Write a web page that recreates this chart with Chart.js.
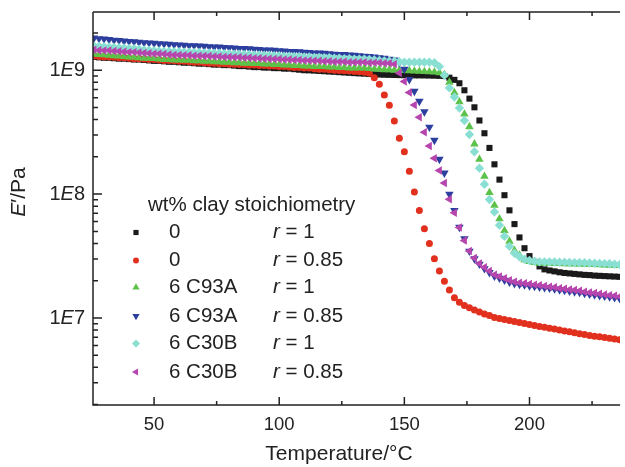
<!DOCTYPE html>
<html>
<head>
<meta charset="utf-8">
<script src="https://cdn.jsdelivr.net/npm/chart.js@4.4.1/dist/chart.umd.min.js"></script>
<style>
  html, body { margin: 0; padding: 0; background: #fff; }
  canvas { display: block; }
</style>
</head>
<body>
<canvas id="modulusChart" width="625" height="467"></canvas>
<script>
//================================================
// DATA (E' in Pa vs temperature in C)
//================================================
const temps = [
    26, 28, 30, 32, 34, 36, 38, 40, 42, 44,
    46, 48, 50, 52, 54, 56, 58, 60, 62, 64,
    66, 68, 70, 72, 74, 76, 78, 80, 82, 84,
    86, 88, 90, 92, 94, 96, 98, 100, 102, 104,
    106, 108, 110, 112, 114, 116, 118, 120, 122, 124,
    126, 128, 130, 132, 134, 136, 138, 140, 142, 144,
    146, 148, 150, 152, 154, 156, 158, 160, 162, 164,
    166, 168, 170, 172, 174, 176, 178, 180, 182, 184,
    186, 188, 190, 192, 194, 196, 198, 200, 202, 204,
    206, 208, 210, 212, 214, 216, 218, 220, 222, 224,
    226, 228, 230, 232, 234, 236
];

// 0 wt%, r = 1
const neatR1 = [
    1.28e9, 1.27e9, 1.26e9, 1.26e9, 1.25e9, 1.24e9, 1.24e9, 1.23e9, 1.22e9, 1.22e9,
    1.21e9, 1.20e9, 1.19e9, 1.19e9, 1.18e9, 1.17e9, 1.17e9, 1.16e9, 1.15e9, 1.15e9,
    1.14e9, 1.13e9, 1.13e9, 1.12e9, 1.11e9, 1.11e9, 1.10e9, 1.10e9, 1.09e9, 1.08e9,
    1.08e9, 1.07e9, 1.06e9, 1.06e9, 1.05e9, 1.05e9, 1.04e9, 1.04e9, 1.03e9, 1.03e9,
    1.02e9, 1.01e9, 1.00e9, 9.98e8, 9.93e8, 9.87e8, 9.82e8, 9.76e8, 9.71e8, 9.65e8,
    9.59e8, 9.54e8, 9.48e8, 9.43e8, 9.38e8, 9.32e8, 9.27e8, 9.23e8, 9.20e8, 9.18e8,
    9.16e8, 9.14e8, 9.12e8, 9.10e8, 9.09e8, 9.09e8, 9.08e8, 9.06e8, 9.04e8, 9.01e8,
    8.97e8, 8.70e8, 8.36e8, 7.85e8, 6.89e8, 5.90e8, 5.02e8, 3.93e8, 3.10e8, 2.36e8,
    1.74e8, 1.31e8, 9.80e7, 7.40e7, 5.73e7, 4.47e7, 3.66e7, 3.16e7, 2.84e7, 2.61e7,
    2.47e7, 2.42e7, 2.38e7, 2.34e7, 2.31e7, 2.29e7, 2.27e7, 2.25e7, 2.23e7, 2.22e7,
    2.20e7, 2.19e7, 2.18e7, 2.17e7, 2.16e7, 2.15e7
];

// 0 wt%, r = 0.85
const neatR085 = [
    1.30e9, 1.29e9, 1.28e9, 1.28e9, 1.27e9, 1.26e9, 1.26e9, 1.25e9, 1.24e9, 1.24e9,
    1.23e9, 1.22e9, 1.22e9, 1.21e9, 1.20e9, 1.20e9, 1.19e9, 1.18e9, 1.18e9, 1.17e9,
    1.16e9, 1.16e9, 1.15e9, 1.14e9, 1.14e9, 1.13e9, 1.13e9, 1.12e9, 1.12e9, 1.11e9,
    1.11e9, 1.10e9, 1.10e9, 1.09e9, 1.09e9, 1.08e9, 1.08e9, 1.07e9, 1.07e9, 1.06e9,
    1.05e9, 1.05e9, 1.04e9, 1.04e9, 1.03e9, 1.02e9, 1.02e9, 1.01e9, 1.00e9, 9.95e8,
    9.90e8, 9.84e8, 9.78e8, 9.72e8, 9.62e8, 9.45e8, 8.70e8, 7.69e8, 6.32e8, 5.21e8,
    3.90e8, 2.82e8, 2.20e8, 1.53e8, 1.04e8, 7.36e7, 5.25e7, 3.99e7, 3.01e7, 2.40e7,
    1.98e7, 1.68e7, 1.46e7, 1.34e7, 1.26e7, 1.21e7, 1.16e7, 1.12e7, 1.08e7, 1.05e7,
    1.01e7, 9.90e6, 9.73e6, 9.55e6, 9.38e6, 9.20e6, 9.04e6, 8.87e6, 8.71e6, 8.55e6,
    8.41e6, 8.28e6, 8.15e6, 8.02e6, 7.87e6, 7.74e6, 7.60e6, 7.46e6, 7.35e6, 7.24e6,
    7.14e6, 7.05e6, 6.95e6, 6.87e6, 6.78e6, 6.68e6
];

// 6 wt% C93A, r = 1
const c93aR1 = [
    1.35e9, 1.34e9, 1.33e9, 1.32e9, 1.31e9, 1.30e9, 1.29e9, 1.28e9, 1.27e9, 1.26e9,
    1.25e9, 1.25e9, 1.24e9, 1.23e9, 1.22e9, 1.22e9, 1.21e9, 1.21e9, 1.20e9, 1.20e9,
    1.19e9, 1.19e9, 1.18e9, 1.18e9, 1.17e9, 1.17e9, 1.16e9, 1.16e9, 1.15e9, 1.15e9,
    1.14e9, 1.14e9, 1.13e9, 1.13e9, 1.12e9, 1.12e9, 1.11e9, 1.11e9, 1.10e9, 1.10e9,
    1.09e9, 1.09e9, 1.08e9, 1.08e9, 1.07e9, 1.07e9, 1.07e9, 1.06e9, 1.06e9, 1.05e9,
    1.05e9, 1.04e9, 1.04e9, 1.04e9, 1.04e9, 1.03e9, 1.02e9, 1.02e9, 1.01e9, 1.01e9,
    1.00e9, 1.00e9, 9.95e8, 9.90e8, 9.85e8, 9.80e8, 9.75e8, 9.70e8, 9.65e8, 9.55e8,
    9.20e8, 8.00e8, 6.60e8, 5.56e8, 4.42e8, 3.50e8, 2.54e8, 1.91e8, 1.39e8, 1.03e8,
    8.11e7, 6.32e7, 5.07e7, 4.17e7, 3.51e7, 3.21e7, 2.95e7, 2.85e7, 2.80e7, 2.77e7,
    2.76e7, 2.76e7, 2.75e7, 2.75e7, 2.74e7, 2.74e7, 2.73e7, 2.73e7, 2.72e7, 2.71e7,
    2.70e7, 2.69e7, 2.68e7, 2.67e7, 2.67e7, 2.66e7
];

// 6 wt% C93A, r = 0.85
const c93aR085 = [
    1.82e9, 1.80e9, 1.79e9, 1.77e9, 1.75e9, 1.74e9, 1.72e9, 1.71e9, 1.70e9, 1.68e9,
    1.67e9, 1.66e9, 1.65e9, 1.64e9, 1.63e9, 1.62e9, 1.61e9, 1.60e9, 1.59e9, 1.58e9,
    1.58e9, 1.57e9, 1.56e9, 1.55e9, 1.54e9, 1.54e9, 1.53e9, 1.52e9, 1.51e9, 1.50e9,
    1.50e9, 1.49e9, 1.48e9, 1.47e9, 1.46e9, 1.46e9, 1.45e9, 1.44e9, 1.43e9, 1.42e9,
    1.42e9, 1.41e9, 1.40e9, 1.39e9, 1.38e9, 1.38e9, 1.37e9, 1.36e9, 1.35e9, 1.34e9,
    1.34e9, 1.33e9, 1.32e9, 1.31e9, 1.30e9, 1.29e9, 1.28e9, 1.26e9, 1.25e9, 1.23e9,
    1.21e9, 1.15e9, 1.02e9, 8.41e8, 6.76e8, 5.62e8, 4.62e8, 3.47e8, 2.72e8, 1.91e8,
    1.48e8, 1.00e8, 7.40e7, 5.40e7, 4.37e7, 3.47e7, 3.01e7, 2.72e7, 2.50e7, 2.33e7,
    2.18e7, 2.10e7, 2.02e7, 1.95e7, 1.90e7, 1.87e7, 1.85e7, 1.82e7, 1.80e7, 1.78e7,
    1.76e7, 1.74e7, 1.72e7, 1.69e7, 1.67e7, 1.65e7, 1.63e7, 1.61e7, 1.58e7, 1.56e7,
    1.54e7, 1.52e7, 1.50e7, 1.48e7, 1.46e7, 1.44e7
];

// 6 wt% C30B, r = 1
const c30bR1 = [
    1.57e9, 1.56e9, 1.55e9, 1.54e9, 1.53e9, 1.52e9, 1.51e9, 1.50e9, 1.49e9, 1.48e9,
    1.46e9, 1.45e9, 1.44e9, 1.43e9, 1.42e9, 1.42e9, 1.41e9, 1.41e9, 1.40e9, 1.40e9,
    1.39e9, 1.39e9, 1.38e9, 1.38e9, 1.37e9, 1.37e9, 1.36e9, 1.36e9, 1.35e9, 1.35e9,
    1.34e9, 1.34e9, 1.33e9, 1.33e9, 1.32e9, 1.32e9, 1.31e9, 1.31e9, 1.30e9, 1.30e9,
    1.29e9, 1.29e9, 1.28e9, 1.28e9, 1.27e9, 1.27e9, 1.26e9, 1.26e9, 1.25e9, 1.25e9,
    1.24e9, 1.24e9, 1.23e9, 1.23e9, 1.23e9, 1.22e9, 1.21e9, 1.20e9, 1.19e9, 1.18e9,
    1.18e9, 1.17e9, 1.16e9, 1.16e9, 1.16e9, 1.16e9, 1.16e9, 1.16e9, 1.15e9, 1.07e9,
    9.10e8, 7.20e8, 6.08e8, 4.95e8, 3.93e8, 3.03e8, 2.20e8, 1.62e8, 1.20e8, 9.06e7,
    7.19e7, 5.62e7, 4.57e7, 3.79e7, 3.33e7, 3.12e7, 2.98e7, 2.91e7, 2.87e7, 2.84e7,
    2.84e7, 2.83e7, 2.83e7, 2.82e7, 2.82e7, 2.81e7, 2.80e7, 2.79e7, 2.79e7, 2.78e7,
    2.77e7, 2.76e7, 2.75e7, 2.74e7, 2.72e7, 2.70e7
];

// 6 wt% C30B, r = 0.85
const c30bR085 = [
    1.46e9, 1.45e9, 1.44e9, 1.44e9, 1.43e9, 1.42e9, 1.41e9, 1.40e9, 1.40e9, 1.39e9,
    1.38e9, 1.37e9, 1.36e9, 1.36e9, 1.35e9, 1.34e9, 1.33e9, 1.33e9, 1.32e9, 1.32e9,
    1.31e9, 1.31e9, 1.30e9, 1.30e9, 1.29e9, 1.29e9, 1.28e9, 1.28e9, 1.27e9, 1.27e9,
    1.26e9, 1.26e9, 1.25e9, 1.25e9, 1.24e9, 1.24e9, 1.23e9, 1.23e9, 1.22e9, 1.22e9,
    1.21e9, 1.21e9, 1.20e9, 1.20e9, 1.19e9, 1.19e9, 1.18e9, 1.18e9, 1.17e9, 1.17e9,
    1.17e9, 1.16e9, 1.16e9, 1.16e9, 1.16e9, 1.15e9, 1.15e9, 1.15e9, 1.14e9, 1.14e9,
    1.12e9, 9.50e8, 8.10e8, 6.60e8, 5.25e8, 4.17e8, 3.16e8, 2.45e8, 1.95e8, 1.55e8,
    1.23e8, 9.10e7, 7.06e7, 5.37e7, 4.22e7, 3.47e7, 3.05e7, 2.75e7, 2.57e7, 2.40e7,
    2.24e7, 2.16e7, 2.09e7, 2.02e7, 1.96e7, 1.93e7, 1.91e7, 1.88e7, 1.86e7, 1.84e7,
    1.81e7, 1.79e7, 1.77e7, 1.74e7, 1.72e7, 1.70e7, 1.68e7, 1.66e7, 1.63e7, 1.61e7,
    1.59e7, 1.57e7, 1.55e7, 1.53e7, 1.51e7, 1.49e7
];

const clayLabels = ['0', '0', '6 C93A', '6 C93A', '6 C30B', '6 C30B'];
const ratioLabels = ['1', '0.85', '1', '0.85', '1', '0.85'];
const xMajorTicks = [50, 100, 150, 200];
const xMinorTicks = [75, 125, 175, 225];
const yDecades = [7, 8, 9];

//================================================
// HELPERS
//================================================
const FONT = '"Liberation Sans", Arial, Helvetica, sans-serif';
const INK = '#222222';

function toPoints(values) {
    return values.map((v, i) => ({ x: temps[i], y: v }));
}

function makeSeries(label, values, color, style, radius, rotation, order) {
    return {
        label: label,
        data: toPoints(values),
        showLine: false,
        pointStyle: style,
        pointRadius: radius,
        pointRotation: rotation,
        pointBackgroundColor: color,
        pointBorderColor: color,
        pointBorderWidth: 0,
        pointHoverRadius: radius,
        order: order
    };
}

// draws text pieces one after another, pieces = [[text, italic], ...]
function drawPieces(ctx, pieces, x, y, size, align) {
    let total = 0;
    pieces.forEach(p => {
        ctx.font = (p[1] ? 'italic ' : '') + size + 'px ' + FONT;
        total += ctx.measureText(p[0]).width;
    });
    let cx = x;
    if (align === 'right') cx = x - total;
    if (align === 'center') cx = x - total / 2;
    ctx.textAlign = 'left';
    pieces.forEach(p => {
        ctx.font = (p[1] ? 'italic ' : '') + size + 'px ' + FONT;
        ctx.fillText(p[0], cx, y);
        cx += ctx.measureText(p[0]).width;
    });
}

const datasets = [
    makeSeries('0, r = 1', neatR1, '#1a1a1a', 'rect', 4.3, 0, 6),
    makeSeries('0, r = 0.85', neatR085, '#e2301f', 'circle', 3.5, 0, 5),
    makeSeries('6 C93A, r = 1', c93aR1, '#5cc24a', 'triangle', 4.9, 0, 4),
    makeSeries('6 C93A, r = 0.85', c93aR085, '#2c3f9e', 'triangle', 4.9, 180, 3),
    makeSeries('6 C30B, r = 1', c30bR1, '#8adfd3', 'rectRot', 4.7, 0, 2),
    makeSeries('6 C30B, r = 0.85', c30bR085, '#b646ae', 'triangle', 4.9, -90, 1)
];

//================================================
// FRAME, INWARD TICKS, LABELS AND LEGEND
//================================================
const framePlugin = {
    id: 'frame',
    beforeDraw(chart) {
        const ctx = chart.ctx;
        ctx.save();
        ctx.fillStyle = '#ffffff';
        ctx.fillRect(0, 0, chart.width, chart.height);
        ctx.restore();
    },
    afterDraw(chart) {
        const ctx = chart.ctx;
        const a = chart.chartArea;
        const xs = chart.scales.x;
        const ys = chart.scales.y;

        ctx.save();
        ctx.strokeStyle = INK;
        ctx.fillStyle = INK;
        ctx.lineWidth = 1.5;

        // axis lines
        ctx.beginPath();
        ctx.moveTo(a.left, a.top);
        ctx.lineTo(a.left, a.bottom);
        ctx.lineTo(a.right, a.bottom);
        ctx.moveTo(a.left, a.top);
        ctx.lineTo(a.right, a.top);
        ctx.stroke();

        // x ticks, bottom and top
        ctx.beginPath();
        xMajorTicks.concat(xMinorTicks).forEach(v => {
            const px = xs.getPixelForValue(v);
            const len = xMajorTicks.includes(v) ? 8 : 4;
            ctx.moveTo(px, a.bottom);
            ctx.lineTo(px, a.bottom - len);
            ctx.moveTo(px, a.top);
            ctx.lineTo(px, a.top + len);
        });
        // y ticks (log, major + minor)
        for (let d = 6; d <= 9; d++) {
            for (let m = 1; m <= 9; m++) {
                const v = m * Math.pow(10, d);
                if (v < ys.min || v > ys.max) continue;
                const py = ys.getPixelForValue(v);
                const len = m === 1 ? 9 : 5;
                ctx.moveTo(a.left, py);
                ctx.lineTo(a.left + len, py);
            }
        }
        ctx.stroke();

        // y tick labels: 1E9 etc with italic E
        ctx.textBaseline = 'middle';
        yDecades.forEach(d => {
            const py = ys.getPixelForValue(Math.pow(10, d));
            drawPieces(ctx, [['1', false], ['E', true], [String(d), false]], a.left - 8, py, 20, 'right');
        });

        // axis titles
        drawPieces(ctx, [['Temperature/°C', false]], 339, 454, 21, 'center');
        ctx.save();
        ctx.translate(19, 192);
        ctx.rotate(-Math.PI / 2);
        drawPieces(ctx, [['E', true], ['\u2032/Pa', false]], 0, 0, 21, 'center');
        ctx.restore();

        // legend
        const rowY = [232.5, 260.5, 287.5, 316, 343.5, 372];
        drawPieces(ctx, [['wt% clay stoichiometry', false]], 148, 205.5, 20.5, 'left');
        datasets.forEach((ds, i) => {
            ctx.fillStyle = ds.pointBackgroundColor;
            Chart.helpers.drawPoint(ctx, {
                pointStyle: ds.pointStyle,
                radius: ds.pointRadius * 0.85,
                rotation: ds.pointRotation,
                borderWidth: 0
            }, 136, rowY[i]);
            ctx.fillStyle = INK;
            drawPieces(ctx, [[clayLabels[i], false]], 169, rowY[i], 20.5, 'left');
            drawPieces(ctx, [['r', true], [' = ' + ratioLabels[i], false]], 273, rowY[i], 20.5, 'left');
        });

        ctx.restore();
    }
};

//================================================
// CHART
//================================================
const canvas = document.getElementById('modulusChart');

const modulusChart = new Chart(canvas, {
    type: 'scatter',
    data: { datasets: datasets },
    options: {
        responsive: false,
        animation: false,
        events: [],
        layout: { padding: { top: 12, right: 0, bottom: 0, left: 0 } },
        plugins: {
            legend: { display: false },
            tooltip: { enabled: false }
        },
        scales: {
            x: {
                type: 'linear',
                min: 25.6,
                max: 236.2,
                afterFit: s => { s.height = 62; },
                grid: { display: false, drawTicks: false },
                border: { display: false },
                ticks: {
                    stepSize: 25,
                    includeBounds: false,
                    autoSkip: false,
                    maxRotation: 0,
                    padding: 9,
                    color: INK,
                    font: { family: FONT, size: 18.5 },
                    callback: v => (v % 50 === 0 ? String(v) : '')
                }
            },
            y: {
                type: 'logarithmic',
                min: 1.986e6,
                max: 2.951e9,
                afterFit: s => { s.width = 93; },
                grid: { display: false, drawTicks: false },
                border: { display: false },
                ticks: { display: false }
            }
        }
    },
    plugins: [framePlugin]
});
</script>
</body>
</html>
